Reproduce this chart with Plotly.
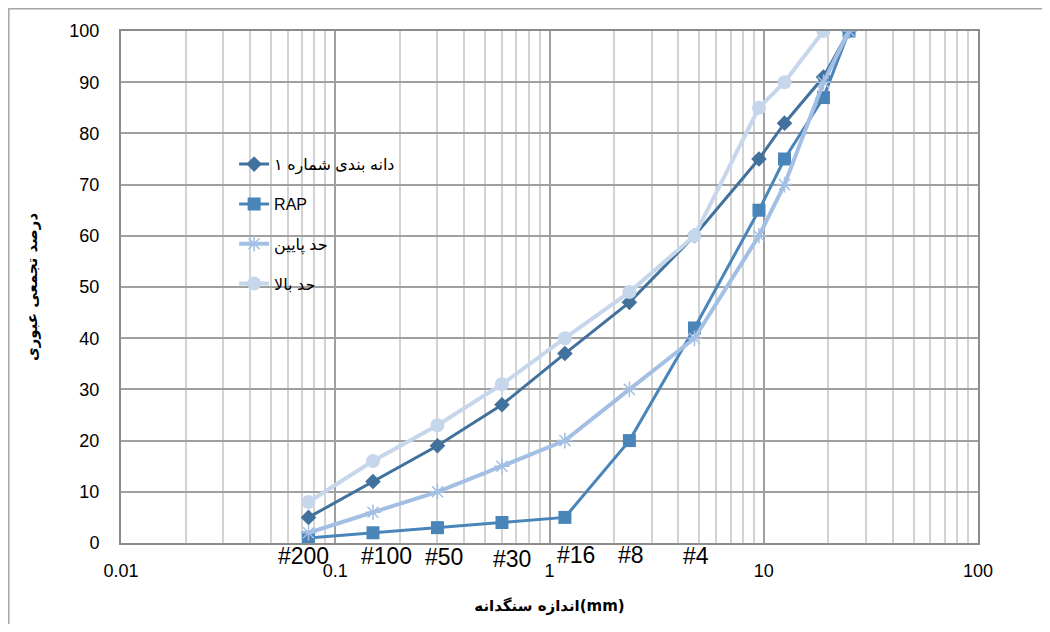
import math
import plotly.graph_objects as go

# sieve sizes (mm)
sizes = [0.075, 0.15, 0.3, 0.6, 1.18, 2.36, 4.75, 9.5, 12.5, 19, 25]
sieve_labels = ["#200", "#100", "#50", "#30", "#16", "#8", "#4"]

grading1 = [5, 12, 19, 27, 37, 47, 60, 75, 82, 91, 100]
rap = [1, 2, 3, 4, 5, 20, 42, 65, 75, 87, 100]
lower_limit = [2, 6, 10, 15, 20, 30, 40, 60, 70, 90, 100]
upper_limit = [8, 16, 23, 31, 40, 49, 60, 85, 90, 100]

x_tick_vals = [0.01, 0.1, 1, 10, 100]
x_tick_text = ["0.01", "0.1", "1", "10", "100"]
y_tick_vals = list(range(0, 101, 10))

names = ["دانه بندی شماره ۱", "RAP", "حد پایین", "حد بالا"]

FONT = "Liberation Sans, Arial, DejaVu Sans, sans-serif"

# layout geometry (figure pixels)
W, H = 1042, 616
ML, MR, MT, MB = 113, 72, 23, 81
PW, PH = W - ML - MR, H - MT - MB

fig = go.Figure()
fig.add_trace(go.Scatter(x=sizes, y=grading1, name=names[0], mode="lines+markers",
                         line=dict(color="#41719c", width=3),
                         marker=dict(symbol="diamond", size=12, color="#41719c"),
                         legendgroup="a"))
fig.add_trace(go.Scatter(x=sizes, y=rap, name=names[1], mode="lines+markers",
                         line=dict(color="#4a85b9", width=3),
                         marker=dict(symbol="square", size=13, color="#4a85b9"),
                         legendgroup="b"))
fig.add_trace(go.Scatter(x=sizes, y=lower_limit, name=names[2], mode="lines+markers",
                         line=dict(color="#a3bfe4", width=4),
                         marker=dict(symbol="asterisk-open", size=13,
                                     line=dict(color="#a3bfe4", width=1.5)),
                         legendgroup="c"))
fig.add_trace(go.Scatter(x=sizes[:len(upper_limit)], y=upper_limit, name=names[3],
                         mode="lines+markers",
                         line=dict(color="#c6d6eb", width=4),
                         marker=dict(symbol="circle", size=14, color="#c6d6eb"),
                         legendgroup="d"))

# sieve number labels under the axis
label_xshift = [-5, 14, 7, 10, 11, 2, 2]
label_yshift = [-13, -13, -14, -16, -12, -12, -13]
for lab, sx, dx, dy in zip(sieve_labels, sizes, label_xshift, label_yshift):
    fig.add_annotation(x=math.log10(sx), y=0, xref="x", yref="y", text=lab, showarrow=False,
                       xanchor="center", yanchor="middle", xshift=dx, yshift=dy,
                       font=dict(family=FONT, size=23, color="#000000"))

# outer chart border (left / top visible)
fig.add_shape(type="rect", xref="paper", yref="paper",
              x0=(0.8 - ML) / PW, x1=(W + 20 - ML) / PW,
              y0=-(MB + 30) / PH, y1=(PH + MT - 0.8) / PH,
              line=dict(color="#a6a6a6", width=1.5), fillcolor="rgba(0,0,0,0)", layer="below")

fig.update_layout(
    width=W, height=H, autosize=False,
    margin=dict(l=ML, r=MR, t=MT, b=MB),
    paper_bgcolor="white", plot_bgcolor="white",
    font=dict(family=FONT, size=18, color="#000000"),
    showlegend=True,
    legend=dict(x=0.132, y=0.773, xanchor="left", yanchor="top",
                bgcolor="rgba(0,0,0,0)", tracegroupgap=16,
                font=dict(family=FONT, size=16, color="#000000")),
    xaxis=dict(type="log", range=[-2, 2], tickvals=x_tick_vals, ticktext=x_tick_text,
               showgrid=True, gridcolor="#a0a0a0", gridwidth=1.5,
               minor=dict(dtick="D1", showgrid=True, gridcolor="#d3d3d3", gridwidth=1.5, ticks=""),
               showline=True, linecolor="#8c8c8c", linewidth=2, mirror=True,
               ticks="", ticklabelstandoff=10, zeroline=False,
               tickfont=dict(family=FONT, size=18),
               title=dict(text="<b>اندازه سنگدانه(mm)</b>", standoff=21,
                          font=dict(family="DejaVu Sans, sans-serif", size=15))),
    yaxis=dict(range=[0, 100], tickvals=y_tick_vals,
               showgrid=True, gridcolor="#a0a0a0", gridwidth=1.5,
               showline=True, linecolor="#8c8c8c", linewidth=2, mirror=True,
               ticks="", ticklabelstandoff=16, zeroline=False,
               tickfont=dict(family=FONT, size=18),
               title=dict(text="<b>درصد تجمعی عبوری</b>", standoff=28,
                          font=dict(family="DejaVu Sans, sans-serif", size=15))),
)

fig.write_html("out.html")
